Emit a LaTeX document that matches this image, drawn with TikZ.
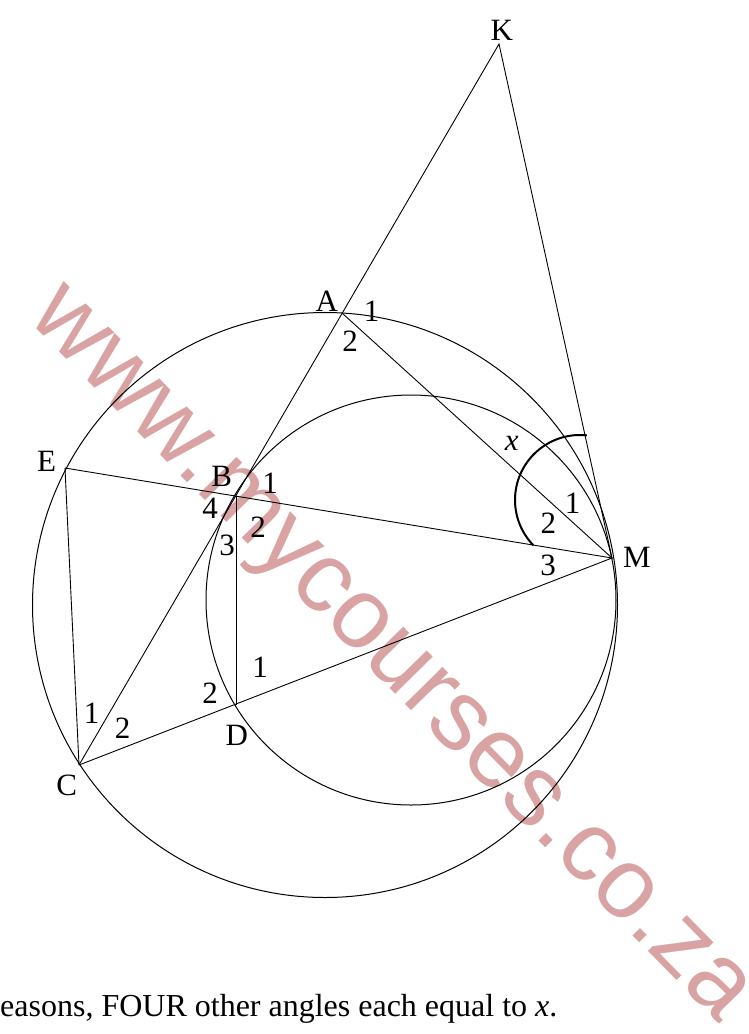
\documentclass[tikz,border=0pt]{standalone}
\usepackage{fontspec}
\setmainfont{Liberation Serif}
\newfontfamily\wmfont{Liberation Sans}
\usetikzlibrary{calc}
\definecolor{wmPink}{HTML}{D9A3A3}

\begin{document}
\begin{tikzpicture}[x=1pt,y=-1pt,
    lbl/.style={inner sep=0pt,font=\fontsize{31}{33}\selectfont},
    seg/.style={line width=0.9pt},
    rim/.style={line width=1pt},
    angarc/.style={line width=2pt}]
  \useasboundingbox (0,0) rectangle (749,1034);
  % watermark
  \node[rotate=-45.5,text=wmPink,inner sep=0pt,
        font=\wmfont\fontsize{100}{102}\selectfont] (wm) at (385,660) {www.mycourses.co.za};
  % circles
  \coordinate (O) at (325,605);
  \coordinate (P) at (411,600);
  \draw[rim] (O) circle[radius=292.5];
  \draw[rim] (P) circle[radius=205];
  % points
  \coordinate (K) at (499,44);
  \coordinate (A) at (342,313);
  \coordinate (E) at (65,468);
  \coordinate (B) at (236,496);
  \coordinate (D) at (236,705);
  \coordinate (C) at (79,765);
  \coordinate (M) at (612,558);
  \coordinate (Q) at (580,500);
  % lines
  \draw[seg] (C) -- (K) -- (M) -- (A);
  \draw[seg] (E) -- (M) -- (C);
  \draw[seg] (E) -- (C);
  \draw[seg] (B) -- (D);
  % angle x
  \draw[angarc] ($(Q)+(-84:65)$) arc[start angle=-84,end angle=-224,radius=65];
  % labels
  \node[lbl] (lK) at (501.7,30) {K};
  \node[lbl] (lA) at (326.7,301.7) {A};
  \node[lbl] (a1) at (371.7,311.7) {1};
  \node[lbl] (a2) at (350,341.7) {2};
  \node[lbl] (lx) at (511.7,443.3) {\textit{x}};
  \node[lbl] (lE) at (46.7,461.7) {E};
  \node[lbl] (lB) at (221.7,476.7) {B};
  \node[lbl] (b1) at (270,483) {1};
  \node[lbl] (b4) at (210,508) {4};
  \node[lbl] (b2) at (258,527) {2};
  \node[lbl] (b3) at (227,545) {3};
  \node[lbl] (m1) at (572.7,503.3) {1};
  \node[lbl] (m2) at (548.3,523.3) {2};
  \node[lbl] (m3) at (548,565) {3};
  \node[lbl] (lM) at (637,557) {M};
  \node[lbl] (d1) at (260,667.5) {1};
  \node[lbl] (d2) at (210,693.3) {2};
  \node[lbl] (lD) at (236.7,735) {D};
  \node[lbl] (c1) at (91.7,713.3) {1};
  \node[lbl] (c2) at (122.7,728.3) {2};
  \node[lbl] (lC) at (66.7,785) {C};
  % bottom line of the question
  \node[inner sep=0pt,anchor=base west,font=\fontsize{32}{34}\selectfont]
    (note) at (0,1016) {easons, FOUR other angles each equal to \textit{x}.};
\end{tikzpicture}
\end{document}
